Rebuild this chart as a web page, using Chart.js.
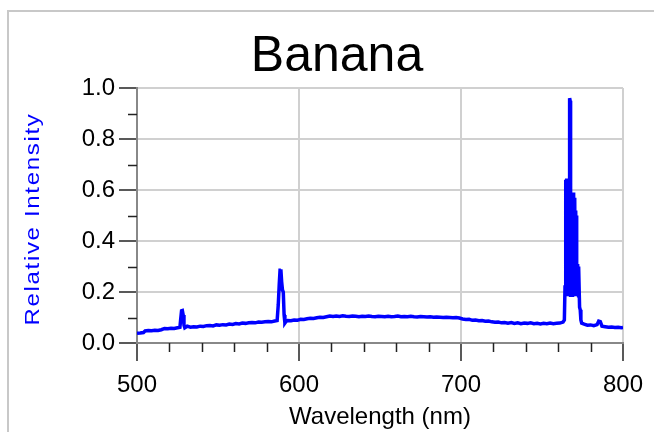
<!DOCTYPE html>
<html><head><meta charset="utf-8">
<script src="https://cdn.jsdelivr.net/npm/chart.js@4.4.1/dist/chart.umd.min.js"></script>
<style>html,body{margin:0;padding:0;background:#fff;}canvas{display:block;}</style>
</head><body>
<canvas id="c" width="654" height="432"></canvas>
<script>
const chartTitle = 'Banana';
const xAxisTitle = 'Wavelength (nm)';
const yAxisTitle = 'Relative Intensity';

const wavelengths = [
500,502,504,505,507,509,511,513,515,517,519,521,523,525,526.5,527,527.5,528,528.5,529,529.5,
531,533,535,537,539,541,543,545,547,549,551,553,555,557,559,561,563,565,567,569,571,573,575,577,579,581,583,585,
586.5,587.2,587.8,588.3,588.8,589.3,589.8,590.3,590.8,591.3,592,593,595,597,599,
601,603,605,607,609,611,613,615,617,619,621,623,625,627,629,631,633,635,637,639,
641,643,645,647,649,651,653,655,657,659,661,663,665,667,669,671,673,675,677,679,
681,683,685,687,689,691,693,695,697,699,701,703,705,707,709,711,713,715,717,719,
721,723,725,727,729,731,733,735,737,739,741,743,745,747,749,751,753,755,757,759,
761,763,763.8,764.2,764.5,764.8,764.95,765.1,765.25,765.4,
765.55,765.7,765.85,766.0,766.15,766.3,766.45,766.6,766.75,766.9,
767.05,767.2,767.35,767.5,767.65,767.8,767.95,768.1,768.25,768.4,
768.55,768.7,768.85,769.0,769.15,769.3,769.45,769.6,769.75,769.9,
770.05,770.2,770.35,770.5,770.65,770.8,770.95,771.1,771.25,771.4,
771.55,771.7,771.85,772.0,772.15,772.3,772.45,772.6,772.8,773.2,
773.6,774.0,774.5,
776,778,780,782,784,785,786,787,789,791,793,795,797,799,800
];
const intensity = [
0.038,0.039,0.041,0.047,0.049,0.048,0.050,0.049,0.052,0.057,0.056,0.058,0.057,0.060,0.062,0.095,0.126,0.127,0.110,0.070,0.060,
0.066,0.062,0.064,0.063,0.066,0.065,0.068,0.069,0.067,0.071,0.070,0.072,0.071,0.074,0.073,0.076,0.075,0.078,0.077,0.079,0.080,0.079,0.082,0.081,0.083,0.084,0.083,0.086,
0.088,0.150,0.230,0.285,0.289,0.240,0.208,0.200,0.110,0.078,0.084,0.088,0.087,0.090,0.089,
0.093,0.092,0.095,0.097,0.096,0.099,0.101,0.100,0.103,0.106,0.104,0.106,0.104,0.107,0.105,0.104,0.106,0.105,0.103,0.105,
0.104,0.106,0.104,0.103,0.105,0.104,0.103,0.105,0.103,0.104,0.106,0.103,0.104,0.103,0.105,0.103,0.102,0.104,0.103,0.102,
0.103,0.101,0.102,0.101,0.100,0.101,0.100,0.099,0.100,0.098,0.094,0.092,0.093,0.089,0.090,0.087,0.088,0.085,0.086,0.083,
0.081,0.082,0.079,0.080,0.078,0.080,0.077,0.079,0.076,0.078,0.077,0.079,0.076,0.077,0.075,0.077,0.076,0.078,0.076,0.077,
0.078,0.082,0.090,0.220,0.250,0.640,0.230,0.645,0.220,0.640,
0.210,0.635,0.200,0.640,0.190,0.630,0.200,0.620,0.300,0.700,
0.955,0.960,0.950,0.400,0.590,0.180,0.585,0.190,0.590,0.180,
0.590,0.190,0.585,0.180,0.590,0.190,0.585,0.200,0.580,0.190,
0.570,0.200,0.560,0.210,0.520,0.220,0.520,0.230,0.500,0.220,
0.310,0.210,0.310,0.200,0.310,0.190,0.300,0.180,0.300,0.140,
0.130,0.090,0.078,
0.074,0.070,0.071,0.068,0.072,0.086,0.084,0.066,0.064,0.062,0.063,0.061,0.062,0.060,0.061
];

const xTickValues = [500, 600, 700, 800];
const yTickValues = [0, 0.2, 0.4, 0.6, 0.8, 1.0];
const xMinorTicks = [520,540,560,580,620,640,660,680,720,740,760,780];
const yMinorTicks = [0.1,0.3,0.5,0.7,0.9];

const FONT = "'Liberation Sans', Arial, Helvetica, sans-serif";

const framePlugin = {
  id: 'frame',
  beforeDraw(chart) {
    const ctx = chart.ctx;
    ctx.save();
    ctx.fillStyle = '#fff';
    ctx.fillRect(0, 0, chart.width, chart.height);
    ctx.strokeStyle = '#c8c8c8';
    ctx.lineWidth = 2;
    ctx.beginPath();
    ctx.moveTo(8, chart.height);
    ctx.lineTo(8, 11);
    ctx.lineTo(chart.width, 11);
    ctx.stroke();
    ctx.restore();
  },
  afterDraw(chart) {
    const ctx = chart.ctx;
    const xs = chart.scales.x, ys = chart.scales.y;
    const a = chart.chartArea;
    ctx.save();
    ctx.strokeStyle = '#222';
    ctx.lineWidth = 1.5;
    ctx.beginPath();
    xMinorTicks.forEach(v => {
      const px = Math.round(xs.getPixelForValue(v)) + 0.5;
      ctx.moveTo(px, a.bottom);
      ctx.lineTo(px, a.bottom + 9);
    });
    yMinorTicks.forEach(v => {
      const py = Math.round(ys.getPixelForValue(v)) + 0.5;
      ctx.moveTo(a.left - 9, py);
      ctx.lineTo(a.left, py);
    });
    ctx.stroke();
    // y axis title (stretched like the reference)
    ctx.translate(39, 219);
    ctx.rotate(-Math.PI / 2);
    ctx.scale(1.2, 1);
    ctx.font = "20px " + FONT;
    if ('letterSpacing' in ctx) ctx.letterSpacing = '1.4px';
    ctx.fillStyle = '#0000ff';
    ctx.textAlign = 'center';
    ctx.textBaseline = 'alphabetic';
    ctx.fillText(yAxisTitle, 0, 0);
    ctx.restore();
  }
};

new Chart(document.getElementById('c'), {
  type: 'line',
  data: {
    datasets: [{
      data: wavelengths.map((w, i) => ({ x: w, y: intensity[i] })),
      borderColor: '#0000ff',
      borderWidth: 3.5,
      pointRadius: 0,
      tension: 0,
      fill: false
    }]
  },
  options: {
    responsive: false,
    animation: false,
    devicePixelRatio: 1,
    layout: { padding: { left: 20, right: 0, top: 0, bottom: 0 } },
    plugins: {
      legend: { display: false },
      tooltip: { enabled: false },
      title: {
        display: true,
        text: chartTitle,
        color: '#000',
        font: { family: FONT, size: 50, weight: 'normal', lineHeight: 1.2 },
        padding: { top: 26.9, bottom: 1.1 }
      }
    },
    scales: {
      x: {
        type: 'linear',
        min: 500, max: 800,
        afterBuildTicks: s => { s.ticks = xTickValues.map(v => ({ value: v })); },
        afterFit: s => { s.height = 89; s.paddingRight = 31; s.paddingLeft = 0; },
        ticks: {
          color: '#000', maxRotation: 0, autoSkip: false, padding: 10,
          font: { family: FONT, size: 24 },
          callback: v => String(v)
        },
        grid: { color: '#d0d0d0', lineWidth: 2, tickColor: '#222', tickWidth: 1.5, tickLength: 18 },
        border: { color: '#888', width: 2 },
        title: {
          display: true, text: xAxisTitle, color: '#000',
          font: { family: FONT, size: 24, lineHeight: 1.2 },
          padding: { top: 0, bottom: 0.5 }
        }
      },
      y: {
        type: 'linear',
        min: 0, max: 1,
        afterBuildTicks: s => { s.ticks = yTickValues.map(v => ({ value: v })); },
        afterFit: s => { s.width = 117; },
        ticks: {
          color: '#000', padding: 4,
          font: { family: FONT, size: 24 },
          callback: v => Number(v).toFixed(1)
        },
        grid: { color: '#d0d0d0', lineWidth: 2, tickColor: '#222', tickWidth: 1.5, tickLength: 18 },
        border: { color: '#888', width: 2 }
      }
    }
  },
  plugins: [framePlugin]
});
</script>
</body></html>
